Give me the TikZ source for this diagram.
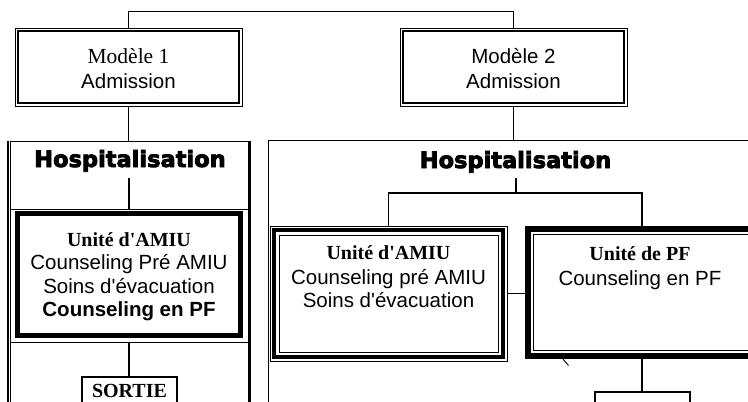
\documentclass[tikz,border=0pt]{standalone}
\usepackage{fontspec}
\setmainfont{Liberation Serif}
\setsansfont{Liberation Sans}
\newfontfamily\hospfont{DejaVu Sans}[BoldFeatures={FakeBold=3.5}]
\usetikzlibrary{calc}
\newcommand{\apos}{\textquotesingle}
\begin{document}
\begin{tikzpicture}[x=1pt,y=-1pt,
  conn/.style={line width=1.1pt},
  frame/.style={draw, rectangle, inner sep=0pt, line width=0.9pt},
  txt/.style={anchor=base, inner sep=0pt},
  sanstxt/.style={txt, font=\sffamily\fontsize{20.5}{24}\selectfont},
  sansbold/.style={txt, font=\sffamily\bfseries\fontsize{20.5}{24}\selectfont},
  seriftxt/.style={txt, font=\rmfamily\fontsize{21.5}{24}\selectfont},
  serifbold/.style={txt, font=\rmfamily\bfseries\fontsize{20}{24}\selectfont},
  hosptxt/.style={txt, font=\hospfont\bfseries\fontsize{22.5}{26}\selectfont}]
\useasboundingbox (0,0) rectangle (748,402);
\clip (0,0) rectangle (748,402);
\fill[white] (0,0) rectangle (748,402);

% Admission boxes
\node[frame, minimum width=227, minimum height=78] (m1) at (128.5,67) {};
\draw[line width=1.8] ($(m1.north west)+(3.5,3.5)$) rectangle ($(m1.south east)+(-3.5,-3.5)$);
\node[frame, minimum width=227, minimum height=78] (m2) at (513.5,67) {};
\draw[line width=1.8] ($(m2.north west)+(3.5,3.5)$) rectangle ($(m2.south east)+(-3.5,-3.5)$);
\node[seriftxt] (m1a) at (128.5,63) {Modèle 1};
\node[sanstxt] (m1b) at (128.5,88) {Admission};
\node[sanstxt] (m2a) at (513.5,63) {Modèle 2};
\node[sanstxt] (m2b) at (513.5,88) {Admission};
\draw[conn] (m1.north) -- ++(0,-16) -| (m2.north);

% Hospitalisation regions
\node[frame, minimum width=238, minimum height=279] (h1) at (129,280.5) {};
\draw[line width=2.2] ($(h1.north west)+(-1.2,0)$) -- ($(h1.south west)+(-1.2,0)$);
\draw[line width=2.2] ($(h1.north east)+(1.2,0)$) -- ($(h1.south east)+(1.2,0)$);
\node[frame, minimum width=512, minimum height=280] (h2) at (524,280) {};
\draw[conn] (m1.south) -- (m1.south |- h1.north);
\draw[conn] (m2.south) -- (m2.south |- h2.north);
\node[hosptxt] (hl) at (130,167) {Hospitalisation};
\node[hosptxt] (hr) at (515.5,168) {Hospitalisation};
\coordinate (hlb) at (129,178);
\coordinate (hrb) at (516,178);

% Left: Unité d'AMIU
\node[frame, minimum width=238, minimum height=133] (a1) at (129,275.5) {};
\draw[line width=5] (17,213.5) rectangle (240.5,335);
\node[serifbold] at (129,246) {Unité d\apos AMIU};
\node[sanstxt] at (129,269.5) {Counseling Pré AMIU};
\node[sanstxt] at (129,293) {Soins d\apos évacuation};
\node[sansbold] at (129,316.5) {Counseling en PF};
\draw[conn] (hlb) -- (hlb |- a1.north);

% SORTIE
\node[frame, line width=2, minimum width=95, minimum height=50] (s1) at (129.5,402) {};
\node[serifbold] at (129.5,397) {SORTIE};
\draw[conn] (a1.south) -- (a1.south |- s1.north);

% Right: Unité d'AMIU
\node[frame, minimum width=237, minimum height=135] (a2) at (388.5,293.5) {};
\draw[line width=4] ($(a2.north west)+(4.5,4.5)$) rectangle ($(a2.south east)+(-4.5,-4.5)$);
\draw[line width=0.8] ($(a2.north west)+(9.5,9.5)$) rectangle ($(a2.south east)+(-9.5,-9.5)$);
\node[serifbold] at (388.5,259.5) {Unité d\apos AMIU};
\node[sanstxt] at (388.5,284) {Counseling pré AMIU};
\node[sanstxt] at (388.5,307.5) {Soins d\apos évacuation};

% Right: Unité de PF
\node[inner sep=0pt, minimum width=234, minimum height=133] (p1) at (642,292.5) {};
\draw[line width=6.5] ($(p1.north west)+(3.25,3.25)$) rectangle ($(p1.south east)+(-3.25,-3.25)$);
\draw[line width=0.8] ($(p1.north west)+(9,9)$) rectangle ($(p1.south east)+(-9,-9)$);
\node[serifbold] at (640,260) {Unité de PF};
\node[sanstxt] at (640,285) {Counseling en PF};

% fork
\draw[conn] (hrb) -- ++(0,15) coordinate (fork);
\draw[conn] (a2.north) |- (fork) -| (p1.north);
\draw[conn] (a2.east) -- (a2.east -| p1.west);

% stub
\coordinate (st1) at (563,359);
\coordinate (st2) at (568.5,365.5);
\draw[line width=0.9] (st1) -- (st2);

% lower box
\node[frame, line width=2, minimum width=95, minimum height=50] (s2) at (642.5,417) {};
\draw[conn] (p1.south) -- (p1.south |- s2.north);
\end{tikzpicture}
\end{document}
